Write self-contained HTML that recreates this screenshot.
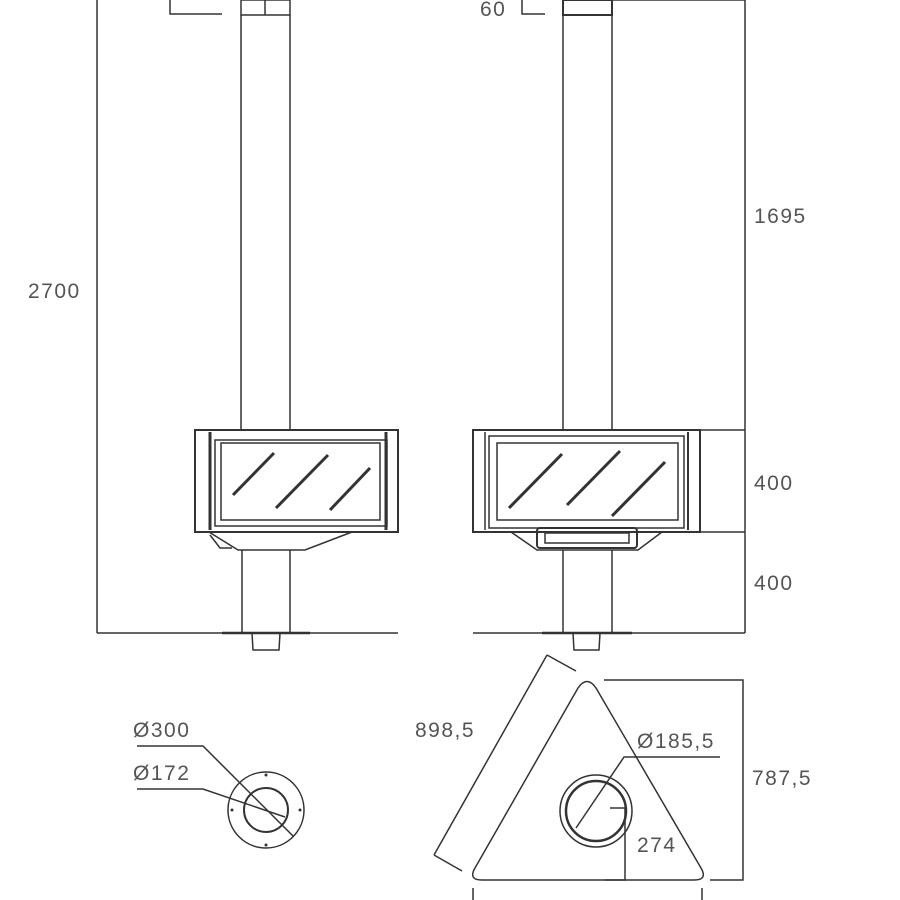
<!DOCTYPE html>
<html><head><style>body{margin:0;background:#fff}svg{display:block}text{font-family:"Liberation Sans",sans-serif;font-size:21px;fill:#555;letter-spacing:1.5px}</style></head><body>
<svg width="900" height="900" viewBox="0 0 900 900" fill="none" stroke="#333" stroke-width="1.5">
<line x1="97" y1="0" x2="97" y2="633"/>
<text x="28" y="298" stroke="none">2700</text>
<polyline points="170,0 170,14 222,14"/>
<rect x="241" y="0" width="49" height="15"/><line x1="265" y1="0" x2="265" y2="15"/>
<line x1="241" y1="15" x2="241" y2="430"/><line x1="290" y1="15" x2="290" y2="430"/>
<rect x="195" y="430" width="203" height="102" stroke-width="2"/>
<line x1="210" y1="432" x2="210" y2="530" stroke-width="3"/>
<line x1="386" y1="432" x2="386" y2="530" stroke-width="3"/>
<rect x="215" y="440" width="172" height="86"/>
<rect x="221" y="443" width="159" height="77"/>
<line x1="233" y1="495" x2="274" y2="453" stroke-width="3"/>
<line x1="276" y1="508" x2="328" y2="455" stroke-width="3"/>
<line x1="330" y1="510" x2="370" y2="468" stroke-width="3"/>
<polyline points="209,532 238,550 305,550 352,532"/>
<polyline points="210,535 220,548 232,548"/>
<line x1="242" y1="550" x2="242" y2="633"/><line x1="290" y1="550" x2="290" y2="633"/>
<line x1="97" y1="633" x2="398" y2="633"/>
<line x1="222" y1="633" x2="310" y2="633" stroke-width="2.5"/>
<polyline points="252,633 253,650 279,650 280,633"/>
<text x="480" y="16" stroke="none">60</text>
<polyline points="522,0 522,14 545,14"/>
<rect x="563" y="0" width="49" height="15" stroke-width="2"/>
<line x1="563" y1="15" x2="563" y2="430"/><line x1="612" y1="15" x2="612" y2="430"/>
<rect x="473" y="430" width="227" height="102" stroke-width="2"/>
<line x1="485" y1="432" x2="485" y2="530"/><line x1="688" y1="432" x2="688" y2="530" stroke-width="2"/>
<rect x="489" y="436" width="195" height="92"/>
<rect x="497" y="443" width="181" height="77"/>
<line x1="509" y1="508" x2="562" y2="454" stroke-width="3"/>
<line x1="567" y1="505" x2="620" y2="451" stroke-width="3"/>
<line x1="612" y1="516" x2="665" y2="462" stroke-width="3"/>
<polyline points="511,532 537,550 638,550 662,532"/>
<rect x="537" y="528" width="100" height="20" rx="3" stroke-width="2"/>
<rect x="545" y="533" width="84" height="10"/>
<line x1="563" y1="550" x2="563" y2="633"/><line x1="612" y1="550" x2="612" y2="633"/>
<line x1="473" y1="633" x2="745" y2="633"/>
<line x1="542" y1="633" x2="632" y2="633" stroke-width="2.5"/>
<polyline points="573,633 574,650 599,650 600,633"/>
<line x1="745" y1="0" x2="745" y2="633"/>
<line x1="612" y1="0" x2="745" y2="0"/>
<line x1="700" y1="430" x2="745" y2="430"/><line x1="700" y1="532" x2="745" y2="532"/>
<text x="754" y="223" stroke="none">1695</text>
<text x="754" y="490" stroke="none">400</text>
<text x="754" y="590" stroke="none">400</text>
<circle cx="266" cy="810" r="38"/>
<circle cx="266" cy="810" r="22" stroke-width="2"/>
<g fill="#333" stroke="none"><circle cx="266" cy="775" r="1.5"/><circle cx="266" cy="845" r="1.5"/><circle cx="232" cy="810" r="1.5"/><circle cx="300" cy="810" r="1.5"/></g>
<text x="133" y="737" stroke="none">Ø300</text>
<text x="133" y="780" stroke="none">Ø172</text>
<polyline points="137,746 203,746 293,836"/>
<polyline points="137,789 203,789 285,817"/>
<path d="M578,688 Q587,675 596,688 L701,868 Q708,880 694,880 L482,880 Q468,880 475,868 Z"/>
<circle cx="596" cy="811" r="36"/>
<circle cx="596" cy="811" r="30" stroke-width="2.5"/>
<text x="637" y="748" stroke="none">Ø185,5</text>
<polyline points="720,757 624,757 576,828"/>
<polyline points="610,808 625,808 625,880 605,880"/>
<text x="637" y="852" stroke="none">274</text>
<line x1="547" y1="655" x2="434" y2="855"/>
<line x1="547" y1="655" x2="576" y2="671"/>
<line x1="434" y1="855" x2="462" y2="871"/>
<text x="415" y="737" stroke="none">898,5</text>
<polyline points="604,680 743,680 743,880 710,880"/>
<text x="752" y="785" stroke="none">787,5</text>
<line x1="473" y1="888" x2="473" y2="900"/><line x1="702" y1="888" x2="702" y2="900"/>
</svg>
</body></html>
